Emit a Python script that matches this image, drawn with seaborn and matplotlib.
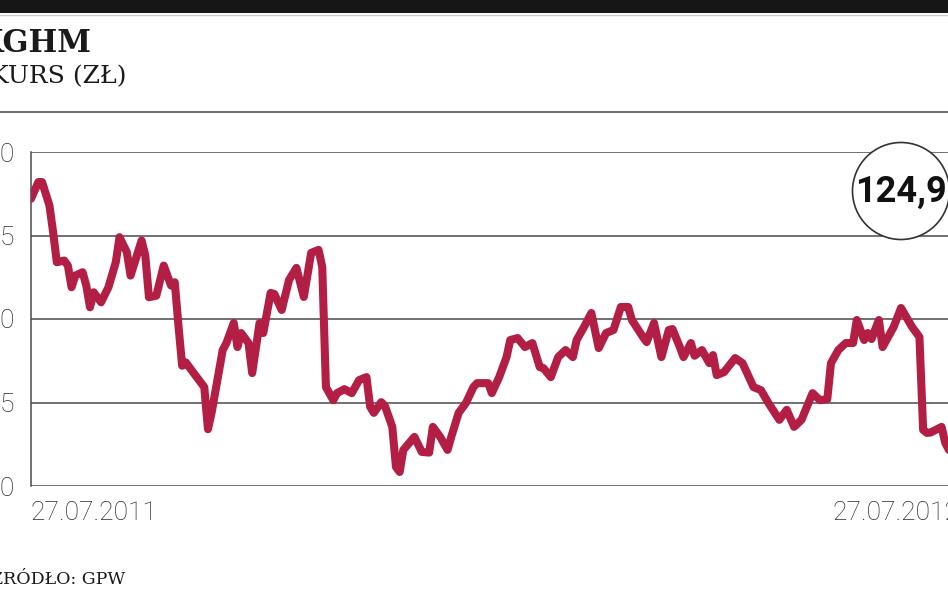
import matplotlib
matplotlib.use("Agg")
import matplotlib.pyplot as plt
from matplotlib.patches import Rectangle, Ellipse
from matplotlib.lines import Line2D
import pandas as pd
import seaborn as sns

# -------------------------------
# 1. Data (KGHM share price, PLN, one year of sessions)
# -------------------------------
sessions = [0, 2, 3, 5, 6, 7, 9, 10, 11, 12, 14, 15, 16, 17, 19, 21, 23, 24, 26, 27,
            29, 30, 31, 32, 34, 36, 37, 38, 39, 40, 41, 42, 44, 47, 48, 49, 52, 53, 55, 56,
            57, 59, 60, 62, 63, 65, 66, 68, 70, 72, 74, 76, 78, 79, 80, 82, 83, 85, 87, 89,
            91, 92, 93, 95, 96, 98, 99, 100, 101, 104, 106, 108, 109, 111, 113, 114, 116, 118, 120, 121,
            124, 125, 127, 129, 130, 132, 134, 136, 138, 139, 141, 143, 145, 147, 148, 150, 152, 154, 156, 158,
            160, 162, 163, 166, 167, 169, 171, 173, 174, 176, 177, 179, 180, 182, 184, 185, 186, 188, 191, 193,
            196, 198, 200, 203, 205, 207, 209, 212, 214, 216, 217, 219, 221, 223, 224, 226, 227, 228, 230, 231,
            234, 236, 239, 241, 242, 243, 244, 247, 248, 249]
prices = [186, 191, 191, 184, 176, 167, 167.5, 166, 159.5, 163, 164, 160, 153.5, 158, 155, 159.5, 167, 174.5, 170, 163,
          170, 173.5, 169, 156.5, 157, 166, 163, 160, 161, 148, 136, 137, 134, 129.6, 117, 122, 140.7, 142.8, 148.8, 141.6,
          145.8, 142.8, 133.8, 148.8, 145.8, 157.8, 157.5, 152.7, 161.7, 165.3, 156.6, 169.8, 170.7, 165.6, 129.6, 125.7, 127.8, 129, 127.8, 131.7,
          132.6, 123.7, 121.9, 125.1, 124, 117.7, 105.7, 104.2, 110.8, 114.7, 110.2, 110, 117.7, 114.7, 110.8, 114.7, 121.9, 124.9, 129.6, 130.8,
          130.8, 127.8, 132.6, 138.6, 143.7, 144.3, 141.6, 142.8, 135.6, 135.3, 132.6, 138.6, 140.7, 138.6, 143.7, 147.6, 151.8, 141.3, 145.8, 146.7,
          153.6, 153.6, 149.7, 144.6, 143.1, 148.8, 138.6, 146.7, 147, 141.6, 138.6, 142.8, 139, 140.7, 136.8, 139.2, 133.2, 134.1, 138.3, 136.8,
          129.6, 128.7, 124.9, 119.8, 122.8, 117.7, 119.8, 127.8, 125.7, 126, 136.8, 140.7, 142.8, 142.8, 149.7, 143.7, 145.8, 144, 149.7, 141.6,
          147.6, 153.3, 147.6, 144.6, 116.8, 115.9, 116, 117.7, 112.9, 110.8]

y_ticks = [100, 125, 150, 175, 200]
date_labels = ["27.07.2011", "27.07.2012"]
date_positions = [0, 252]
last_price = "124,9"

df = pd.DataFrame({"sesja": sessions, "kurs": prices})

# -------------------------------
# 2. Figure
# -------------------------------
sns.set_style("white")
plt.rcParams["font.family"] = ["Roboto", "DejaVu Sans"]

W, H = 948, 593
fig = plt.figure(figsize=(W / 100, H / 100), dpi=100)
ax = fig.add_axes([31 / W, 1 - 486 / H, (960 - 31) / W, (486 - 152) / H])

sns.lineplot(data=df, x="sesja", y="kurs", ax=ax, color="#B31E45", linewidth=5.8,
             solid_joinstyle="round", solid_capstyle="round", zorder=3)

ax.set_xlim(0, 252)
ax.set_ylim(100, 200)
ax.set_yticks(y_ticks)
ax.set_yticklabels([str(t) for t in y_ticks])
ax.set_xticks(date_positions)
ax.set_xticklabels(date_labels)
ax.get_xticklabels()[0].set_ha("left")
ax.get_xticklabels()[1].set_ha("right")
ax.tick_params(axis="y", length=0, pad=11.5, labelsize=19, labelcolor="#2a2a2a")
ax.tick_params(axis="x", length=0, pad=11, labelsize=19, labelcolor="#2a2a2a")
for lab in ax.get_xticklabels() + ax.get_yticklabels():
    lab.set_fontweight("light")
ax.set_xlabel("")
ax.set_ylabel("")

ax.grid(axis="y", color="#4a4a4a", linewidth=1.1, zorder=1)
ax.grid(axis="x", visible=False)
for side in ["top", "right", "bottom"]:
    ax.spines[side].set_visible(False)
ax.spines["left"].set_color("#4a4a4a")
ax.spines["left"].set_linewidth(1.1)

# -------------------------------
# 3. Header, circle, source
# -------------------------------
fig.patches.append(Rectangle((0, 1 - 13 / H), 1, 13 / H, transform=fig.transFigure,
                             facecolor="#161616", edgecolor="none"))
fig.add_artist(Line2D([0, 1], [1 - 15 / H] * 2, transform=fig.transFigure, color="#cccccc", lw=1))
fig.add_artist(Line2D([0, 1], [1 - 112 / H] * 2, transform=fig.transFigure, color="#555555", lw=1.2))

fig.text(92 / W, 1 - 44 / H, "KGHM", ha="right", va="center", family="DejaVu Serif",
         fontweight="bold", fontsize=22, color="#1a1a1a")
fig.text(127 / W, 1 - 77 / H, "KURS (ZŁ)", ha="right", va="center", family="DejaVu Serif",
         fontsize=18, color="#1a1a1a")
fig.text(125 / W, 1 - 579 / H, "ŹRÓDŁO: GPW", ha="right", va="center", family="DejaVu Serif",
         fontsize=12.5, color="#1a1a1a")

fig.patches.append(Ellipse((901 / W, 1 - 191 / H), 97 / W, 97 / H, transform=fig.transFigure,
                           facecolor="white", edgecolor="#333333", linewidth=1.2, zorder=5))
fig.text(855 / W, 1 - 192 / H, last_price, ha="left", va="center", fontweight="bold",
         fontsize=26, color="#111111", zorder=6)

fig.savefig("out.png", dpi=100)
